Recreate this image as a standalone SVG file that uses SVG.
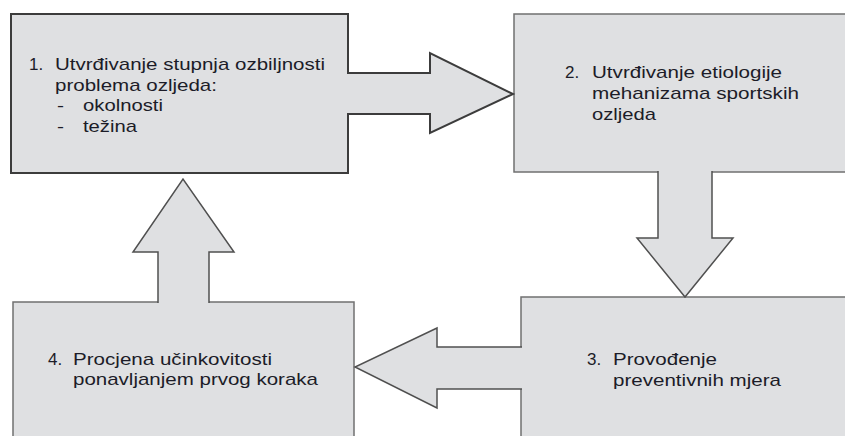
<svg xmlns="http://www.w3.org/2000/svg" width="845" height="436" viewBox="0 0 845 436">
<style>
.box{fill:#dfe0e2;stroke:#707070;stroke-width:1.5}
.box1{fill:#dfe0e2;stroke:#3c3c3c;stroke-width:2}
.af{fill:#dfe0e2;stroke:none}
.al{fill:none;stroke:#505050;stroke-width:1.5;stroke-linejoin:miter}
.al1{fill:none;stroke:#3c3c3c;stroke-width:2;stroke-linejoin:miter}
text{font-family:"Liberation Sans",Arial,sans-serif;font-size:17px;fill:#1c1c28}
</style>
<rect width="845" height="436" fill="#ffffff"/>
<g id="node1">
<rect class="box1" x="11" y="14" width="337" height="159"/>
<text x="29" y="70">1.</text>
<text x="55" y="70" textLength="270" lengthAdjust="spacingAndGlyphs">Utvrđivanje stupnja ozbiljnosti</text>
<text x="55" y="91" textLength="162" lengthAdjust="spacingAndGlyphs">problema ozljeda:</text>
<text x="57" y="111" textLength="7" lengthAdjust="spacingAndGlyphs">-</text>
<text x="83" y="111" textLength="80" lengthAdjust="spacingAndGlyphs">okolnosti</text>
<text x="57" y="132" textLength="7" lengthAdjust="spacingAndGlyphs">-</text>
<text x="83" y="132" textLength="54" lengthAdjust="spacingAndGlyphs">težina</text>
</g>
<g id="node2">
<rect class="box" x="514" y="14" width="340" height="158"/>
<text x="565" y="78">2.</text>
<text x="592" y="78" textLength="190" lengthAdjust="spacingAndGlyphs">Utvrđivanje etiologije</text>
<text x="592" y="99" textLength="207" lengthAdjust="spacingAndGlyphs">mehanizama sportskih</text>
<text x="592" y="119.5" textLength="64" lengthAdjust="spacingAndGlyphs">ozljeda</text>
</g>
<g id="node3">
<rect class="box" x="521" y="297" width="340" height="150"/>
<text x="587" y="365">3.</text>
<text x="613" y="365" textLength="104" lengthAdjust="spacingAndGlyphs">Provođenje</text>
<text x="613" y="386" textLength="168" lengthAdjust="spacingAndGlyphs">preventivnih mjera</text>
</g>
<g id="node4">
<rect class="box" x="13" y="302" width="341" height="150"/>
<text x="48" y="365">4.</text>
<text x="73" y="365" textLength="199" lengthAdjust="spacingAndGlyphs">Procjena učinkovitosti</text>
<text x="73" y="385" textLength="245" lengthAdjust="spacingAndGlyphs">ponavljanjem prvog koraka</text>
</g>
<g id="connectors">
<g id="arrow1-2">
<polygon class="af" points="345,73 430,73 430,53 513,94 430,133 430,114 345,114"/>
<polyline class="al1" points="347,73 430,73 430,53 513,94 430,133 430,114 347,114"/>
</g>
<g id="arrow2-3">
<polygon class="af" points="658,169 712,169 712,238 733,238 685,297 637,238 658,238"/>
<polyline class="al" points="712,171 712,238 733,238 685,297 637,238 658,238 658,171"/>
</g>
<g id="arrow3-4">
<polygon class="af" points="524,347 437,347 437,328 355,367 437,408 437,389 524,389"/>
<polyline class="al" points="522,347 437,347 437,328 355,367 437,408 437,389 522,389"/>
</g>
<g id="arrow4-1">
<polygon class="af" points="158,305 158,252 133,252 183,179 234,252 209,252 209,305"/>
<polyline class="al" points="158,303 158,252 133,252 183,179 234,252 209,252 209,303"/>
</g>
</g>
</svg>
